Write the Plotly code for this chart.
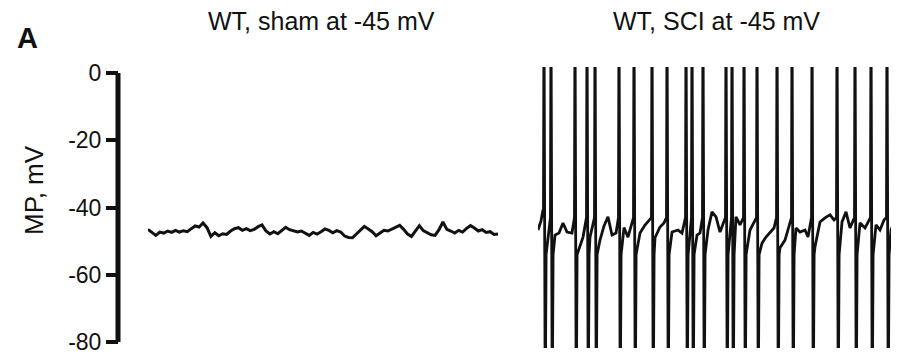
import numpy as np
import plotly.graph_objects as go

# ---------------- data ----------------
panel_titles = ["WT, sham at -45 mV", "WT, SCI at -45 mV"]
y_ticks = [0, -20, -40, -60, -80]

# sham: membrane potential (mV), evenly sampled over ~10 s
sham_mv = [
    -46.5, -47.5, -48.3, -47.3, -47.6, -47.0, -47.4, -46.8, -47.3, -46.9,
    -47.2, -46.3, -45.5, -45.8, -44.6, -46.0, -48.6, -47.5, -48.4, -47.8,
    -48.0, -47.0, -46.3, -46.0, -46.8, -46.3, -46.9, -46.5, -45.7, -45.2,
    -47.0,
    -47.9, -47.2, -47.8, -46.9, -45.9, -46.6, -46.9, -47.3, -47.0, -47.6,
    -48.3, -47.4, -47.9, -47.2, -46.4, -46.8, -47.5, -46.9, -47.3, -48.5,
    -48.9, -49.0, -47.8, -46.5, -45.6, -46.4, -47.2, -48.4, -47.5, -46.8,
    -47.0, -46.5, -46.0, -45.3, -46.5, -47.9, -48.6, -46.8, -45.4, -46.9,
    -47.5, -48.1, -48.3, -46.6, -44.3, -46.5, -47.0, -47.6, -46.8, -47.3,
    -46.2, -45.4, -46.1, -47.0, -46.6, -47.4, -47.2, -48.0, -47.9,
]
sham_duration_s = 10.0

# SCI: baseline between spikes (time s, mV)
sci_base_t = [
    0.00, 0.086, 0.143, 0.486, 0.60, 0.714, 0.829, 0.971, 1.20, 1.286,
    1.486, 1.771, 1.886, 2.00, 2.114, 2.229, 2.457, 2.571, 2.914, 3.057,
    3.20, 3.343, 3.486, 3.60, 3.829, 4.00, 4.114, 4.543, 4.629, 4.857,
    4.971, 5.086, 5.20, 5.657, 5.771, 6.057, 6.40, 6.514, 6.629, 6.743,
    6.914, 7.057, 7.171, 7.371, 7.486, 7.629, 7.714, 7.914, 8.057, 8.20,
    8.343, 8.457, 8.686, 8.80, 8.914, 9.20, 9.343, 9.429, 9.657, 9.771,
    9.886, 10.086, 10.314,
]
sci_base_mv = [
    -46.7, -44.0, -40.7, -48.2, -47.6, -44.6, -47.3, -47.6, -51.7, -48.8,
    -48.8, -49.7, -45.5, -42.8, -48.2, -47.6, -46.0, -48.8, -47.6, -45.2,
    -43.7, -49.0, -45.8, -44.6, -47.3, -46.7, -47.6, -48.2, -47.6, -46.7,
    -41.3, -42.8, -47.3, -42.8, -45.2, -46.7, -50.6, -48.8, -47.3, -46.1,
    -52.0, -49.7, -45.8, -46.1, -47.3, -46.7, -48.8, -51.7, -44.3, -43.1,
    -42.2, -43.7, -44.3, -41.3, -46.1, -44.6, -46.1, -44.6, -45.2, -46.7,
    -43.7, -46.7, -45.2,
]
# SCI: spike times (s)
sci_spike_t = [
    0.171, 0.371, 1.057, 1.40, 1.629, 2.314, 2.743, 3.257, 3.686, 4.229,
    4.40, 4.714, 5.371, 5.543, 5.886, 6.257, 6.829, 7.257, 7.829, 8.543,
    9.057, 9.514, 9.971, 10.229,
]
spike_threshold_mv = -43.0
spike_peak_mv = 20.0
spike_trough_mv = -100.0
spike_return_mv = -54.0
sci_duration_s = 10.314

# ---------------- build SCI trace ----------------
pts = list(zip(sci_base_t, sci_base_mv))
for ts in sci_spike_t:
    pts += [(ts - 0.015, spike_threshold_mv), (ts, spike_peak_mv),
            (ts + 0.035, spike_trough_mv), (ts + 0.06, spike_return_mv)]
pts.sort(key=lambda p: p[0])
sci_t = [p[0] for p in pts]
sci_mv = [p[1] for p in pts]

sham_t = np.linspace(0, sham_duration_s, len(sham_mv))

# ---------------- figure ----------------
# The page body adds an 8 px offset; lay out in reference pixels and shift.
OFF = 8
W, H = 899 - OFF, 360 - OFF
ml, mr, mt, mb = 118 - OFF, 0, 67 - OFF, 12
pw = W - ml - mr
ph = H - mt - mb

def px_x(px):
    return (px - OFF - ml) / pw

def px_y(py):
    return (H - mb - (py - OFF)) / ph

FONT = "Liberation Sans, Arial, Helvetica, sans-serif"
INK = "#111111"

fig = go.Figure()
fig.add_trace(go.Scatter(x=sham_t, y=sham_mv, mode="lines",
                         line=dict(color=INK, width=3),
                         xaxis="x", yaxis="y", showlegend=False, hoverinfo="skip"))
fig.add_trace(go.Scatter(x=sci_t, y=sci_mv, mode="lines",
                         line=dict(color=INK, width=2.8),
                         xaxis="x2", yaxis="y", showlegend=False, hoverinfo="skip"))

fig.update_layout(
    width=W, height=H,
    margin=dict(l=ml, r=mr, t=mt, b=mb, pad=0),
    paper_bgcolor="white", plot_bgcolor="white",
    font=dict(family=FONT, color=INK),
    xaxis=dict(domain=[px_x(148), px_x(498)], range=[0, sham_duration_s],
               visible=False, anchor="y"),
    xaxis2=dict(domain=[px_x(538), 1.0], range=[0, sci_duration_s],
                visible=False, anchor="y"),
    yaxis=dict(range=[-81.8, 1.8], tickvals=y_ticks,
               ticktext=[str(v) for v in y_ticks],
               ticks="outside", ticklen=12, tickwidth=4, tickcolor=INK,
               showline=False, zeroline=False, showgrid=False,
               tickfont=dict(size=23, family=FONT, color=INK),
               anchor="free", position=0, automargin=False),
)

# y-axis spine from -80 to 0 only
fig.add_shape(type="line", xref="paper", yref="y", x0=0, x1=0,
              y0=y_ticks[-1], y1=y_ticks[0],
              line=dict(color=INK, width=5))

fig.add_annotation(text=panel_titles[0], xref="paper", yref="paper",
                   x=px_x(321), y=px_y(21), showarrow=False,
                   xanchor="center", yanchor="middle",
                   font=dict(size=25, family=FONT, color=INK))
fig.add_annotation(text=panel_titles[1], xref="paper", yref="paper",
                   x=px_x(716), y=px_y(21), showarrow=False,
                   xanchor="center", yanchor="middle",
                   font=dict(size=25, family=FONT, color=INK))
fig.add_annotation(text="<b>A</b>", xref="paper", yref="paper",
                   x=px_x(27), y=px_y(38), showarrow=False,
                   xanchor="center", yanchor="middle",
                   font=dict(size=29, family=FONT, color=INK))
fig.add_annotation(text="MP, mV", xref="paper", yref="paper",
                   x=px_x(34), y=px_y(190), showarrow=False, textangle=-90,
                   xanchor="center", yanchor="middle",
                   font=dict(size=26, family=FONT, color=INK))

fig.write_html("out.html")
